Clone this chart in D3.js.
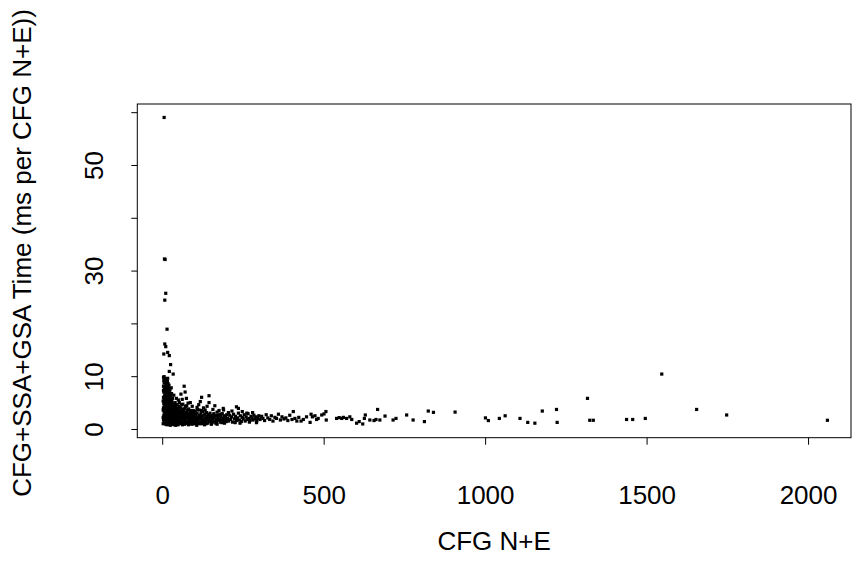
<!DOCTYPE html>
<html>
    <head>
        <title>CFG N+E scatter</title>
        <script src="https://d3js.org/d3.v7.min.js"></script>
        <style>
            body { margin: 0; background: #fff; }
            text { font-family: "Liberation Sans", Arial, sans-serif; }
        </style>
    </head>
    <body>
        <div id="chart"></div>
        <script>

            // outliers above the main cluster
            const spikePoints = [
                [6, 59.0], [7, 32.2], [9, 32.1], [11, 25.7], [8, 24.4], [15, 18.9],
                [8, 16.1], [11, 15.6], [5, 14.2], [17, 14.5], [22, 13.9], [26, 12.2],
                [22, 10.9], [34, 10.4], [68, 8.1], [71, 7.0], [122, 6.0], [145, 6.3],
                [145, 5.0], [189, 3.9], [230, 4.2], [236, 3.9], [406, 3.3]
            ];

            // dense cluster, small graphs
            const clusterPoints = [
                // x < 20
                [4, 9.8], [5, 9.2], [6, 8.7], [4, 8.1], [7, 7.6], [5, 7.0], [8, 6.5], [4, 6.0], [6, 5.6],
                [9, 5.2], [5, 4.8], [7, 4.4], [4, 4.0], [10, 3.7], [6, 3.3], [8, 3.0], [5, 2.6], [11, 2.3],
                [7, 2.0], [4, 1.7], [9, 1.4], [6, 1.1], [12, 0.9], [13, 9.5], [12, 8.4], [11, 7.2], [13, 6.2],
                [12, 5.0], [14, 4.2], [13, 3.4], [14, 2.7], [12, 1.9], [15, 1.2], [10, 8.9], [9, 7.9], [10, 6.8],
                [11, 5.9], [9, 4.6], [8, 3.9], [11, 3.1], [10, 2.2], [8, 1.6], [15, 0.8], [16, 9.0], [17, 8.0],
                [16, 7.0], [18, 6.4], [17, 5.4], [16, 4.6], [18, 3.8], [17, 2.9], [16, 2.0], [18, 1.3], [19, 0.9],
                [3, 5.3], [3, 3.6], [3, 2.2], [3, 1.0], [4, 7.3], [6, 9.9], [7, 6.1], [7, 4.9], [7, 3.4],
                [7, 1.3], [9, 9.5], [9, 6.0], [9, 3.4], [9, 2.0], [10, 1.0], [12, 7.8], [12, 6.6], [12, 4.4],
                [12, 2.9], [14, 8.8], [14, 5.6], [14, 3.5], [14, 1.6], [15, 7.4], [15, 4.9], [15, 2.4],
                [19, 7.1], [19, 5.9], [19, 4.3], [19, 3.3], [19, 2.2], [19, 1.7], [18, 8.6], [17, 9.6],
                // 20 - 50
                [20, 7.7], [22, 6.9], [24, 7.4], [21, 6.0], [25, 5.6], [23, 5.0], [27, 6.2], [26, 4.4], [22, 4.0],
                [28, 3.6], [24, 3.1], [21, 2.6], [27, 2.2], [23, 1.7], [26, 1.2], [29, 0.9], [30, 5.2], [32, 4.7],
                [31, 3.9], [33, 3.2], [30, 2.6], [34, 2.0], [31, 1.5], [33, 1.0], [36, 6.4], [35, 4.2], [37, 3.5],
                [38, 2.8], [36, 2.1], [39, 1.4], [37, 0.8], [40, 5.0], [42, 3.9], [41, 3.0], [43, 2.4], [40, 1.8],
                [44, 1.1], [46, 4.6], [45, 3.4], [47, 2.7], [48, 1.9], [46, 1.3], [49, 0.8], [50, 5.5], [44, 5.8],
                [28, 7.8], [48, 3.9], [35, 1.2], [25, 0.7], [42, 0.7],
                [21, 8.3], [21, 4.6], [21, 3.4], [21, 1.2], [23, 6.4], [23, 3.8], [23, 2.4], [25, 4.9],
                [25, 3.6], [25, 2.0], [27, 5.3], [27, 3.0], [27, 1.5], [29, 6.7], [29, 4.1], [29, 2.0],
                [32, 5.8], [32, 3.6], [32, 2.4], [32, 1.2], [34, 4.4], [34, 2.9], [38, 4.8], [38, 3.9],
                [38, 1.9], [41, 4.3], [41, 2.2], [41, 1.3], [43, 3.2], [43, 1.6], [45, 2.1], [47, 3.3],
                [47, 1.0], [49, 2.4], [49, 1.5],
                // 50 - 100
                [52, 4.3], [54, 3.6], [56, 2.9], [53, 2.2], [55, 1.6], [57, 1.0], [58, 4.0], [60, 3.3], [61, 2.5],
                [59, 1.9], [62, 1.3], [63, 0.8], [64, 4.7], [65, 3.7], [66, 2.8], [67, 2.1], [68, 1.5], [69, 0.9],
                [70, 3.9], [72, 3.1], [73, 2.4], [71, 1.7], [74, 1.1], [76, 4.4], [77, 3.4], [78, 2.6], [79, 1.9],
                [80, 1.3], [81, 0.8], [82, 3.8], [84, 2.9], [85, 2.2], [83, 1.6], [86, 1.0], [88, 3.5], [89, 2.7],
                [90, 2.0], [91, 1.4], [92, 0.9], [94, 3.2], [95, 2.5], [96, 1.8], [97, 1.2], [99, 2.9], [98, 2.1],
                [100, 1.5], [75, 5.8], [62, 5.6], [87, 5.0], [58, 6.6], [93, 4.3], [80, 4.9],
                [51, 3.0], [51, 1.2], [53, 5.0], [55, 2.5], [57, 3.4], [57, 1.7], [60, 4.6], [60, 1.1],
                [63, 2.9], [63, 2.0], [66, 1.2], [66, 3.3], [69, 3.0], [69, 2.3], [72, 1.3], [72, 4.3],
                [75, 2.1], [75, 3.0], [78, 1.1], [78, 3.6], [81, 2.3], [84, 1.3], [87, 2.5], [87, 1.7],
                [90, 3.1], [93, 1.1], [93, 2.3], [96, 3.5], [99, 1.0],
                // 100 - 200
                [102, 3.4], [104, 2.7], [105, 2.0], [103, 1.4], [106, 0.9], [108, 3.0], [110, 2.3], [111, 1.7],
                [112, 1.1], [114, 3.6], [115, 2.6], [117, 1.9], [118, 1.3], [120, 2.9], [121, 2.2], [123, 1.6],
                [124, 1.0], [126, 3.3], [127, 2.5], [129, 1.8], [130, 1.2], [132, 2.8], [134, 2.1], [135, 1.5],
                [137, 3.1], [138, 2.4], [140, 1.7], [141, 1.1], [143, 2.7], [145, 2.0], [146, 1.4], [148, 3.0],
                [150, 2.3], [151, 1.6], [153, 1.0], [155, 2.6], [156, 1.9], [158, 1.3], [160, 2.9], [161, 2.2],
                [163, 1.5], [165, 2.5], [167, 1.8], [168, 1.2], [170, 3.2], [172, 2.1], [174, 1.6], [176, 2.6],
                [178, 1.9], [180, 1.3], [182, 2.4], [184, 1.7], [186, 2.9], [188, 2.0], [190, 1.5], [192, 2.5],
                [194, 1.8], [196, 2.2], [198, 1.4], [200, 2.7], [113, 4.6], [128, 4.0], [139, 4.3], [118, 5.2],
                [157, 3.7], [176, 3.5], [108, 4.1], [163, 4.4], [190, 3.6], [131, 0.8], [107, 0.7], [152, 0.9],
                [170, 0.9],
                [101, 2.3], [104, 1.1], [107, 1.6], [109, 3.7], [113, 2.0], [116, 1.0], [119, 2.4], [122, 3.5],
                [125, 1.9], [128, 1.4], [133, 3.6], [136, 1.0], [142, 2.0], [147, 2.4], [154, 1.8], [159, 2.2],
                [166, 1.1], [171, 2.6], [179, 2.8], [185, 1.2], [193, 1.1], [199, 1.9],
                // 200 - 300
                [203, 2.0], [206, 1.5], [209, 2.6], [212, 1.8], [215, 2.3], [218, 1.3], [221, 2.8], [224, 1.9],
                [227, 2.4], [230, 1.6], [233, 2.1], [236, 3.0], [239, 1.7], [242, 2.5], [245, 1.4], [248, 2.2],
                [251, 1.9], [254, 2.7], [257, 1.5], [260, 2.3], [263, 1.8], [266, 2.9], [269, 2.0], [272, 1.6],
                [275, 2.4], [278, 2.1], [281, 1.7], [284, 2.6], [287, 1.9], [290, 2.3], [293, 1.5], [296, 2.0],
                [299, 2.5], [205, 3.1], [216, 3.4], [248, 3.3], [262, 3.0], [280, 3.1], [241, 1.1], [226, 1.2],
                [270, 1.3], [292, 1.2],
                // 300 - 430
                [303, 1.8], [308, 2.4], [312, 2.0], [317, 1.6], [322, 2.7], [327, 2.1], [333, 1.8], [338, 2.5],
                [343, 1.5], [349, 2.2], [354, 2.0], [360, 2.8], [366, 1.7], [371, 2.3], [377, 1.9], [383, 2.1],
                [389, 1.6], [395, 2.6], [402, 1.8], [411, 2.0], [417, 1.5], [423, 2.2]
            ];

            // sparse tail, larger graphs
            const tailPoints = [
                [430, 1.5], [437, 1.8], [447, 2.3], [458, 1.25], [461, 2.8], [465, 2.3], [473, 2.5], [478, 1.8],
                [483, 2.0], [494, 2.65], [501, 2.85], [507, 3.3], [508, 1.7], [540, 2.0], [548, 2.15], [556, 2.0],
                [561, 2.2], [571, 2.0], [581, 2.3], [587, 1.8], [602, 1.1], [610, 1.4], [621, 0.95], [626, 2.0],
                [629, 2.65], [643, 1.7], [656, 1.6], [662, 1.8], [667, 3.7], [674, 1.7], [690, 2.45], [715, 1.7],
                [724, 2.0], [757, 2.65], [777, 1.7], [812, 1.4], [824, 3.4], [840, 3.15], [907, 3.2], [1001, 2.1],
                [1010, 1.6], [1044, 2.0], [1062, 2.5], [1108, 2.0], [1132, 1.25], [1154, 1.1], [1177, 3.4],
                [1221, 3.7], [1223, 1.25], [1317, 5.8], [1324, 1.65], [1335, 1.65], [1438, 1.8], [1457, 1.8],
                [1496, 2.0], [1547, 10.4], [1655, 3.7], [1748, 2.65], [2060, 1.65]
            ];

            const xTicks = [0, 500, 1000, 1500, 2000];
            const yTicks = [0, 10, 20, 30, 40, 50, 60];
            const yTickLabels = ["0", "10", "", "30", "", "50", ""];

            const xTitle = "CFG N+E";
            const yTitle = "CFG+SSA+GSA Time (ms per CFG N+E))";

            const points = spikePoints.concat(clusterPoints, tailPoints);

            // plot region
            const margin = { top: 104, right: 7, bottom: 134.3, left: 137.3 };
            const W = 858, H = 572;
            const width = W - margin.left - margin.right;
            const height = H - margin.top - margin.bottom;

            const svg = d3.select("#chart")
                .append("svg")
                    .attr("width", W)
                    .attr("height", H)
                .append("g")
                    .attr("transform", `translate(${margin.left},${margin.top})`);

            // R style: 4% padding beyond the data range
            const x = d3.scaleLinear()
                .domain([-77.1, 2133])
                .range([0, width]);

            const y = d3.scaleLinear()
                .domain([-1.65, 61.55])
                .range([height, 0]);

            // x axis
            const gx = svg.append("g")
                .attr("transform", `translate(0,${height})`)
                .call(d3.axisBottom(x).tickValues(xTicks).tickSize(7).tickSizeOuter(0)
                    .tickFormat(d3.format("d")));
            gx.select(".domain").remove();
            gx.selectAll(".tick line").attr("stroke", "#000");
            gx.selectAll(".tick text")
                .attr("y", 66.5)
                .attr("dy", 0)
                .attr("font-size", 26)
                .attr("fill", "#000");

            // y axis, labels rotated
            const gy = svg.append("g")
                .call(d3.axisLeft(y).tickValues(yTicks).tickSize(6).tickSizeOuter(0)
                    .tickFormat((d, i) => yTickLabels[i]));
            gy.select(".domain").remove();
            gy.selectAll(".tick line").attr("stroke", "#000");
            gy.selectAll(".tick text")
                .attr("x", 0)
                .attr("y", -34.8)
                .attr("dy", 0)
                .attr("transform", "rotate(-90)")
                .attr("text-anchor", "middle")
                .attr("font-size", 26)
                .attr("fill", "#000");

            // frame
            svg.append("rect")
                .attr("width", width)
                .attr("height", height)
                .attr("fill", "none")
                .attr("stroke", "#000")
                .attr("stroke-width", 1);

            // points
            svg.selectAll(".pt")
                .data(points)
                .enter()
                .append("rect")
                    .attr("class", "pt")
                    .attr("x", d => x(d[0]) - 1.6)
                    .attr("y", d => y(d[1]) - 1.6)
                    .attr("width", 3.2)
                    .attr("height", 3.2)
                    .attr("fill", "#000");

            // titles
            svg.append("text")
                .attr("x", width / 2)
                .attr("y", 550 - margin.top)
                .attr("text-anchor", "middle")
                .attr("font-size", 26)
                .text(xTitle);

            svg.append("text")
                .attr("transform", `translate(${31 - margin.left},${253 - margin.top}) rotate(-90)`)
                .attr("text-anchor", "middle")
                .attr("font-size", 26)
                .text(yTitle);

        </script>
    </body>
</html>
